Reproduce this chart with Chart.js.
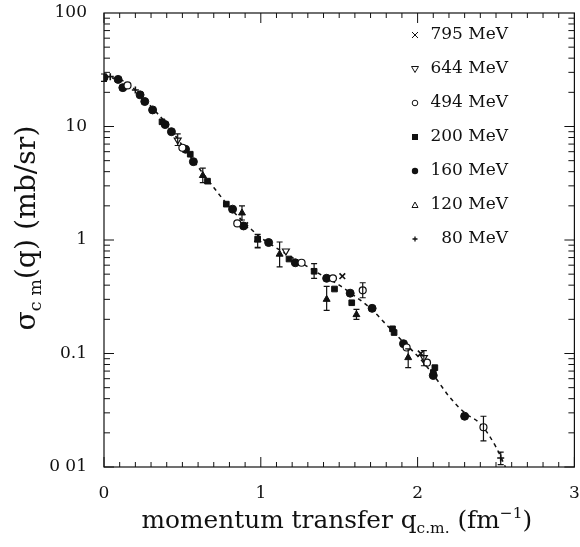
<!DOCTYPE html>
<html><head><meta charset="utf-8">
<script src="https://cdn.jsdelivr.net/npm/chart.js@4"></script>
<style>html,body{margin:0;padding:0;background:#fff}canvas{display:block}</style>
</head><body>
<canvas id="c" width="580" height="547"></canvas>
<script>
// ---- data ----
const energyLabels = ['795 MeV', '644 MeV', '494 MeV', '200 MeV', '160 MeV', '120 MeV', '80 MeV'];
const xTickLabels = ['0', '1', '2', '3'];
const yTickLabels = ['0 01', '0.1', '1', '10', '100'];

const q795 = [0.90, 1.52, 2.02];
const s795 = [1.35, 0.48, 0.100];
const e795 = [null, null, null];

const q644 = [0.47, 1.16, 2.04];
const s644 = [7.6, 0.80, 0.092];
const e644 = [[6.8, 8.6], null, [0.078, 0.106]];

const q494 = [0.15, 0.50, 0.85, 1.26, 1.46, 1.65, 1.93, 2.06, 2.42];
const s494 = [23, 6.5, 1.40, 0.63, 0.46, 0.36, 0.113, 0.083, 0.0224];
const e494 = [null, null, null, null, null, [0.31, 0.42], null, null, [0.017, 0.028]];

const q200 = [0.37, 0.55, 0.66, 0.78, 0.98, 1.18, 1.34, 1.47, 1.58, 1.84, 1.85, 2.10, 2.11];
const s200 = [11, 5.7, 3.3, 2.07, 1.02, 0.68, 0.53, 0.37, 0.28, 0.165, 0.153, 0.068, 0.075];
const e200 = [null, null, null, null, [0.86, 1.12], null, [0.46, 0.62], null, null, null, null, null, null];

const q160 = [0.00, 0.09, 0.12, 0.23, 0.26, 0.31, 0.39, 0.43, 0.52, 0.57, 0.82, 0.89, 1.05, 1.22, 1.42, 1.57, 1.71, 1.91, 2.10, 2.30];
const s160 = [27, 26, 22, 19, 16.6, 14, 10.4, 9.0, 6.3, 4.9, 1.87, 1.33, 0.95, 0.63, 0.46, 0.34, 0.25, 0.122, 0.064, 0.028];
const e160 = [[25, 29], null, null, null, null, null, null, null, null, null, null, null, null, null, null, null, null, null, null, null];

const q120 = [0.63, 0.88, 0.98, 1.12, 1.42, 1.61, 1.94];
const s120 = [3.7, 1.73, 1.0, 0.75, 0.30, 0.22, 0.092];
const e120 = [[3.2, 4.3], [1.5, 2.0], [0.85, 1.12], [0.58, 0.96], [0.24, 0.39], [0.2, 0.245], [0.075, 0.11]];

const q80 = [0.04, 0.20, 2.53];
const s80 = [27.5, 21, 0.012];
const e80 = [null, null, [0.0105, 0.0135]];

const curveQ = [0.00, 0.10, 0.20, 0.30, 0.40, 0.50, 0.60, 0.70, 0.80, 0.90, 1.00, 1.10, 1.20, 1.30, 1.40, 1.50, 1.60, 1.70, 1.80, 1.90, 2.00, 2.10, 2.20, 2.30, 2.40, 2.50, 2.56];
const curveS = [27, 26, 21, 15, 10.5, 6.8, 4.4, 2.9, 1.95, 1.4, 1.05, 0.85, 0.70, 0.58, 0.48, 0.40, 0.32, 0.25, 0.18, 0.13, 0.095, 0.065, 0.042, 0.030, 0.024, 0.015, 0.010];

// ---- build ----
function pts(q, s, e) { return q.map((v, i) => ({ x: v, y: s[i], err: e[i] })); }
const INK = '#111';
const FONT = "'DejaVu Serif', serif";

const seriesDefs = [
  { label: energyLabels[0], data: pts(q795, s795, e795), pointStyle: 'crossRot', pointRadius: 4, borderWidth: 1.6, bg: INK },
  { label: energyLabels[1], data: pts(q644, s644, e644), pointStyle: 'triangle', pointRotation: 180, pointRadius: 4, borderWidth: 1.2, bg: '#fff' },
  { label: energyLabels[2], data: pts(q494, s494, e494), pointStyle: 'circle', pointRadius: 3.5, borderWidth: 1.2, bg: '#fff' },
  { label: energyLabels[3], data: pts(q200, s200, e200), pointStyle: 'rect', pointRadius: 4, borderWidth: 1, bg: INK },
  { label: energyLabels[4], data: pts(q160, s160, e160), pointStyle: 'circle', pointRadius: 4, borderWidth: 1, bg: INK },
  { label: energyLabels[5], data: pts(q120, s120, e120), pointStyle: 'triangle', pointRadius: 4, borderWidth: 1, bg: INK },
  { label: energyLabels[6], data: pts(q80, s80, e80), pointStyle: 'cross', pointRadius: 3.5, borderWidth: 1.6, bg: INK }
];

const datasets = [{
  type: 'line', label: 'fit', data: curveQ.map((v, i) => ({ x: v, y: curveS[i] })),
  borderColor: INK, borderWidth: 1.5, borderDash: [4, 4], pointRadius: 0, fill: false,
  cubicInterpolationMode: 'monotone', order: 10
}].concat(seriesDefs.map(d => ({
  type: 'scatter', label: d.label, data: d.data, pointStyle: d.pointStyle,
  pointRotation: d.pointRotation || 0, pointRadius: d.pointRadius, borderWidth: d.borderWidth,
  borderColor: INK, backgroundColor: d.bg, pointBackgroundColor: d.bg, pointBorderColor: INK, order: 1
})));

function isDecade(v) { const l = Math.log10(v); return Math.abs(l - Math.round(l)) < 1e-6; }

const framePlugin = {
  id: 'frame',
  beforeDatasetsDraw(chart) {
    const { ctx, chartArea: a, scales: { x, y } } = chart;
    ctx.save();
    ctx.strokeStyle = INK; ctx.lineWidth = 1.2;
    ctx.strokeRect(a.left, a.top, a.right - a.left, a.bottom - a.top);
    ctx.lineWidth = 1;
    ctx.beginPath();
    for (let i = 0; i <= 30; i++) {
      const px = x.getPixelForValue(i / 10);
      const len = i % 10 === 0 ? 10 : 5;
      ctx.moveTo(px, a.bottom); ctx.lineTo(px, a.bottom - len);
      ctx.moveTo(px, a.top); ctx.lineTo(px, a.top + len);
    }
    for (let d = -2; d <= 1; d++) {
      for (let m = 1; m <= 9; m++) {
        const v = m * Math.pow(10, d);
        const py = y.getPixelForValue(v);
        const len = m === 1 ? 10 : 6;
        ctx.moveTo(a.left, py); ctx.lineTo(a.left + len, py);
        ctx.moveTo(a.right, py); ctx.lineTo(a.right - len, py);
      }
    }
    ctx.stroke();
    ctx.restore();
  },
  afterDatasetsDraw(chart) {
    const { ctx, scales: { x, y } } = chart;
    ctx.save();
    ctx.strokeStyle = INK; ctx.lineWidth = 1.2;
    ctx.beginPath();
    chart.data.datasets.forEach(ds => {
      if (ds.type !== 'scatter') return;
      ds.data.forEach(p => {
        if (!p.err) return;
        const px = x.getPixelForValue(p.x);
        const y1 = y.getPixelForValue(p.err[0]);
        const y2 = y.getPixelForValue(p.err[1]);
        ctx.moveTo(px, y1); ctx.lineTo(px, y2);
        ctx.moveTo(px - 3, y1); ctx.lineTo(px + 3, y1);
        ctx.moveTo(px - 3, y2); ctx.lineTo(px + 3, y2);
      });
    });
    ctx.stroke();
    ctx.restore();
  },
  afterDraw(chart) {
    const ctx = chart.ctx;
    ctx.save();
    ctx.fillStyle = INK; ctx.strokeStyle = INK;
    // legend
    const rows = [35, 69, 103, 137, 171, 205, 239];
    ctx.font = "17px " + FONT;
    ctx.textAlign = 'right'; ctx.textBaseline = 'middle';
    energyLabels.forEach((lab, i) => {
      const yy = rows[i], sx = 415;
      ctx.fillText(lab, 508, yy);
      ctx.lineWidth = 1;
      ctx.beginPath();
      if (i === 0) { ctx.moveTo(sx - 3, yy - 3); ctx.lineTo(sx + 3, yy + 3); ctx.moveTo(sx + 3, yy - 3); ctx.lineTo(sx - 3, yy + 3); ctx.stroke(); }
      else if (i === 1) { ctx.moveTo(sx - 3.5, yy - 2.5); ctx.lineTo(sx + 3.5, yy - 2.5); ctx.lineTo(sx, yy + 3.5); ctx.closePath(); ctx.stroke(); }
      else if (i === 2) { ctx.arc(sx, yy, 2.8, 0, Math.PI * 2); ctx.stroke(); }
      else if (i === 3) { ctx.fillRect(sx - 3, yy - 3, 6, 6); }
      else if (i === 4) { ctx.arc(sx, yy, 3.2, 0, Math.PI * 2); ctx.fill(); }
      else if (i === 5) { ctx.moveTo(sx - 3, yy + 2.5); ctx.lineTo(sx + 3, yy + 2.5); ctx.lineTo(sx, yy - 3); ctx.closePath(); ctx.stroke(); }
      else { ctx.lineWidth = 1.3; ctx.moveTo(sx - 2.5, yy); ctx.lineTo(sx + 2.5, yy); ctx.moveTo(sx, yy - 2.5); ctx.lineTo(sx, yy + 2.5); ctx.stroke(); }
    });
    // axis titles with sub/superscripts
    function drawPieces(pieces, cx, baseY, target, base) {
      let w = 0;
      pieces.forEach(p => { ctx.font = (p.s * base) + "px " + FONT; w += ctx.measureText(p.t).width; });
      const sc = target / w;
      const b = base * sc;
      let xx = cx - target / 2;
      ctx.textAlign = 'left'; ctx.textBaseline = 'alphabetic';
      pieces.forEach(p => {
        ctx.font = (p.s * b) + "px " + FONT;
        ctx.fillText(p.t, xx, baseY + p.dy * b);
        xx += ctx.measureText(p.t).width;
      });
    }
    drawPieces([
      { t: 'momentum transfer q', s: 1, dy: 0 },
      { t: 'c.m.', s: 0.62, dy: 0.22 },
      { t: ' (fm', s: 1, dy: 0 },
      { t: '\u22121', s: 0.62, dy: -0.42 },
      { t: ')', s: 1, dy: 0 }
    ], 337, 528, 391, 22);
    ctx.save();
    ctx.translate(35, 228);
    ctx.rotate(-Math.PI / 2);
    drawPieces([
      { t: '\u03c3', s: 1, dy: 0 },
      { t: 'c m', s: 0.62, dy: 0.22 },
      { t: '(q) (mb/sr)', s: 1, dy: 0 }
    ], 0, 0, 205, 20);
    ctx.restore();
    ctx.restore();
  }
};

Chart.defaults.font.family = FONT;
Chart.defaults.color = INK;

new Chart(document.getElementById('c'), {
  data: { datasets },
  options: {
    responsive: false, animation: false,
    layout: { padding: { top: 13, right: 5, left: 0, bottom: 0 } },
    plugins: { legend: { display: false }, tooltip: { enabled: false } },
    scales: {
      x: {
        type: 'linear', min: 0, max: 3,
        grid: { display: false, drawTicks: false },
        border: { display: false },
        ticks: { stepSize: 1, padding: 16, font: { size: 17 }, color: INK,
          callback: (v) => xTickLabels[Math.round(v)] },
        afterFit: (s) => { s.height = 80; s.paddingLeft = 0; s.paddingRight = 0; }
      },
      y: {
        type: 'logarithmic', min: 0.01, max: 100,
        grid: { display: false, drawTicks: false },
        border: { display: false },
        ticks: { autoSkip: false, padding: 17, font: { size: 17 }, color: INK,
          callback: (v) => isDecade(v) ? yTickLabels[Math.round(Math.log10(v)) + 2] : null },
        afterFit: (s) => { s.width = 104; s.paddingTop = 0; s.paddingBottom = 0; }
      }
    }
  },
  plugins: [framePlugin]
});
</script>
</body></html>
